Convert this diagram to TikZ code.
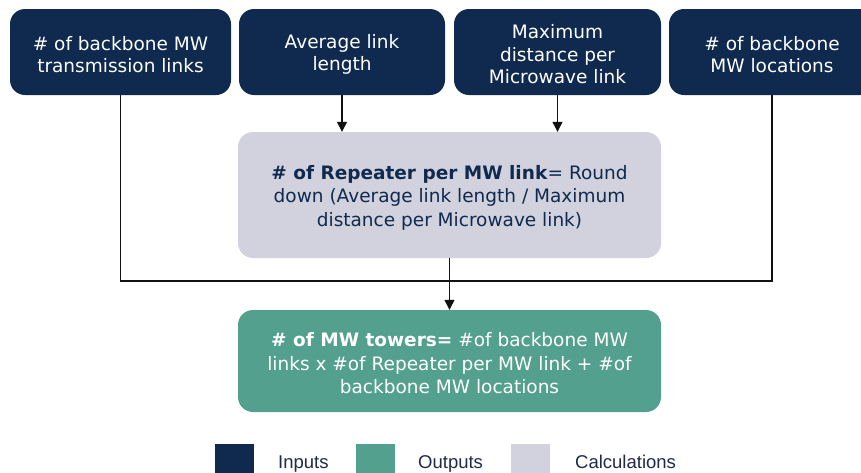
\documentclass[tikz,border=0pt]{standalone}
\usepackage{fontspec}
\setmainfont{DejaVu Sans}
\newfontfamily\legendfont{Liberation Sans}
\usetikzlibrary{arrows.meta}
\definecolor{navy}{HTML}{0F2A4E}
\definecolor{teal}{HTML}{53A08E}
\definecolor{calc}{HTML}{D1D2DD}
\definecolor{linec}{HTML}{111111}
\definecolor{legtext}{HTML}{1D2A48}
\tikzset{
  inbox/.style={fill=navy, rounded corners=15pt, inner sep=0pt, minimum height=86pt},
  calcbox/.style={fill=calc, rounded corners=15pt, inner sep=0pt, minimum width=423pt, minimum height=126pt},
  outbox/.style={fill=teal, rounded corners=15pt, inner sep=0pt, minimum width=423pt, minimum height=102pt},
  intext/.style={text=white, align=center, font=\fontsize{18.5}{22.5}\selectfont, inner sep=0pt},
  calctext/.style={text=navy, align=center, font=\fontsize{18.5}{23.5}\selectfont, inner sep=0pt},
  outtext/.style={text=white, align=center, font=\fontsize{18.5}{23.5}\selectfont, inner sep=0pt},
  conn/.style={draw=linec, line width=1.2pt},
  arr/.style={conn, -{Triangle[length=10pt,width=10pt]}},
  legsq/.style={inner sep=0pt, minimum width=39pt, minimum height=39pt, anchor=north west},
  legtxt/.style={anchor=base west, text=legtext, font=\legendfont\fontsize{18.5}{20}\selectfont, inner sep=0pt}
}
\begin{document}
\begin{tikzpicture}[x=1pt,y=-1pt]
\useasboundingbox (0,0) rectangle (861,472);
\node[inbox, minimum width=221pt] (b1) at (120.5,52) {};
\node[inbox, minimum width=206pt] (b2) at (342,52) {};
\node[inbox, minimum width=207pt] (b3) at (557.5,52) {};
\node[inbox, minimum width=206pt] (b4) at (772,52) {};
\node[intext] (b1t) at (120.5,54.5) {\# of backbone MW\\transmission links};
\node[intext] (b2t) at (342,54.5) {Average link\\length};
\node[intext] (b3t) at (557.5,54.5) {Maximum\\distance per\\Microwave link};
\node[intext] (b4t) at (772,54.5) {\# of backbone\\MW locations};
\node[calcbox] (mid) at (449.5,195) {};
\node[calctext] (midt) at (449.5,197.5) {\textbf{\# of Repeater per MW link}= Round\\down (Average link length / Maximum\\distance per Microwave link)};
\node[outbox] (out) at (449.5,361) {};
\node[outtext] (outt) at (449.5,363.5) {\textbf{\# of MW towers=} \#of backbone MW\\links x \#of Repeater per MW link + \#of\\backbone MW locations};
\coordinate (j) at (449.5,281);
\draw[arr] (b2.south) -- (b2.south |- mid.north);
\draw[arr] (b3.south) -- (b3.south |- mid.north);
\draw[conn] (b1.south) |- (j) -| (b4.south);
\draw[arr] (mid.south) -- (out.north);
\node[legsq, fill=navy] (l1) at (215,444) {};
\node[legsq, fill=teal] (l2) at (356,444) {};
\node[legsq, fill=calc] (l3) at (511,444) {};
\node[legtxt] (t1) at (278,468) {Inputs};
\node[legtxt] (t2) at (418,468) {Outputs};
\node[legtxt] (t3) at (575,468) {Calculations};
\end{tikzpicture}
\end{document}
